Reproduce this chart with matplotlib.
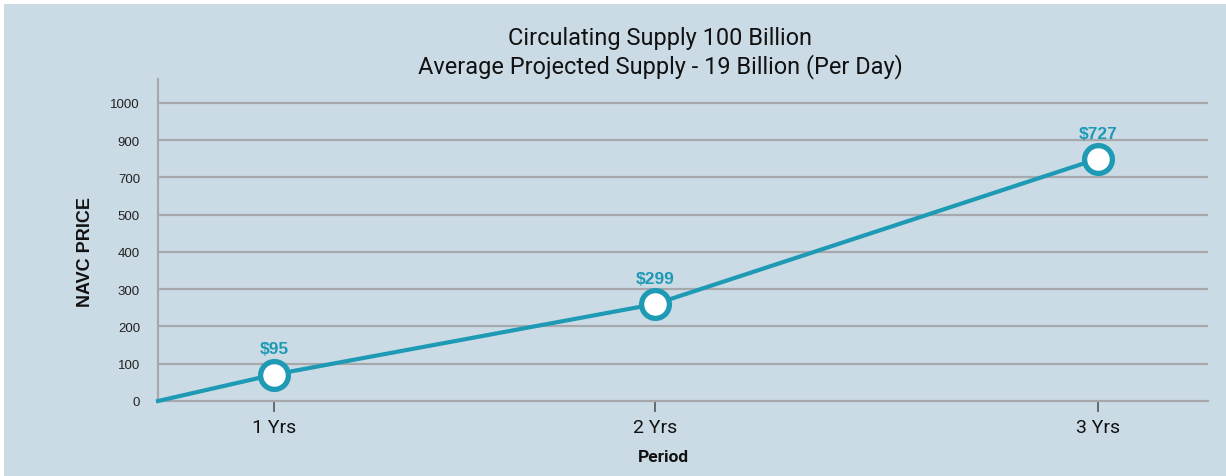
import matplotlib.pyplot as plt
from matplotlib.patches import Rectangle

# data (y is in tick-index units, the axis labels are not linear)
periods = ["1 Yrs", "2 Yrs", "3 Yrs"]
period_x = [116, 497, 940]
price_labels = ["$95", "$299", "$727"]
price_level = [0.71, 2.60, 6.50]
ytick_labels = ["0", "100", "200", "300", "400", "500", "700", "900", "1000"]

bg = "#cbdbe5"
teal = "#1e9ab5"
grid_c = "#a6a8ab"

plt.rcParams['font.family'] = ['Roboto', 'DejaVu Sans']

fig = plt.figure(figsize=(12.26, 4.77), dpi=100, facecolor="white")
fig.patches.append(Rectangle((4 / 1226, 0), 1, 472 / 477, transform=fig.transFigure,
                             facecolor=bg, edgecolor="none", zorder=-10))

ax = fig.add_axes([158 / 1226, 1 - 402 / 477, 1050 / 1226, 322 / 477])
ax.set_facecolor("none")

ax.set_xlim(0, 1050)
ax.set_ylim(0, 8.64)

yt = list(range(len(ytick_labels)))
ax.set_yticks(yt)
ax.set_yticklabels(ytick_labels, fontsize=9.5, color="#222222", family="Liberation Sans")
for y in yt[1:]:
    ax.axhline(y, color=grid_c, lw=1.6, zorder=1)

ax.set_xticks(period_x)
ax.set_xticklabels(periods, fontsize=14, color="#111111")
ax.tick_params(axis="x", length=8, width=1.2, color="#555555", pad=4)
ax.tick_params(axis="y", length=0, pad=13)

for s in ["top", "right"]:
    ax.spines[s].set_visible(False)
ax.spines["left"].set_color(grid_c)
ax.spines["left"].set_linewidth(1.6)
ax.spines["bottom"].set_color(grid_c)
ax.spines["bottom"].set_linewidth(1.6)

# line from origin through the three points
ax.plot([0] + period_x, [0] + price_level, color=teal, lw=3, zorder=3, clip_on=False)
ax.plot(period_x, price_level, "o", ms=20, mfc="white", mec=teal, mew=3.8, zorder=4)

for x, y, lab in zip(period_x, price_level, price_labels):
    ax.annotate(lab, (x, y), xytext=(0, 18.5), textcoords="offset points",
                ha="center", va="center", fontsize=12.5, fontweight="bold", color=teal,
                family="Liberation Sans")

ax.set_ylabel("NAVC PRICE", fontsize=13, fontweight="bold", color="#111111",
              family="Liberation Sans")
ax.yaxis.set_label_coords((85 - 158) / 1050, (402 - 252) / 322)
ax.set_xlabel("Period", fontsize=12.5, fontweight="bold", color="#111111")
ax.xaxis.set_label_coords((663 - 158) / 1050, -(457 - 402) / 322)
ax.xaxis.label.set_va("center")
ax.yaxis.label.set_va("center")

fig.text(660 / 1226, 1 - 38 / 477, "Circulating Supply 100 Billion",
         ha="center", va="center", fontsize=16.9, color="#111111")
fig.text(660 / 1226, 1 - 67 / 477, "Average Projected Supply - 19 Billion (Per Day)",
         ha="center", va="center", fontsize=16.9, color="#111111")

fig.savefig("out.png", dpi=100, facecolor=fig.get_facecolor())
